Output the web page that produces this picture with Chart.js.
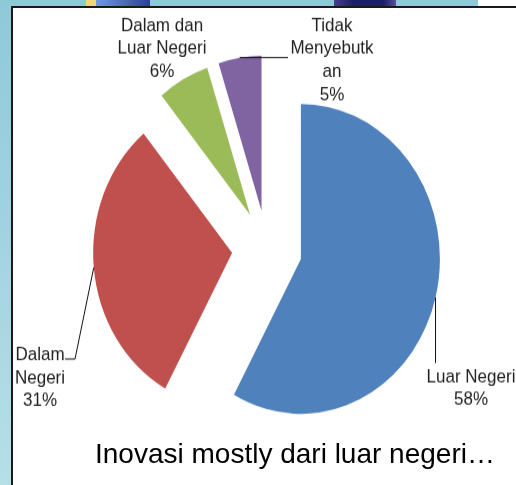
<!DOCTYPE html>
<html>
<head>
<meta charset="utf-8">
<script src="https://cdn.jsdelivr.net/npm/chart.js@4"></script>
<style>
  html, body { margin: 0; padding: 0; background: #fff; }
  body { width: 516px; height: 485px; position: relative; overflow: hidden; font-family: "Liberation Sans", Arial, sans-serif; }
  .marco { position: absolute; }
  #franjaIzq { left: 0; top: 0; width: 11px; height: 485px; background: linear-gradient(#8ec9d8, #b6dfe8); }
  #franjaSup { left: 0; top: 0; width: 478px; height: 6px; background: #8ec9d8; }
  #bitA { left: 86px; top: 0; width: 10px; height: 6px; background: #f0d870; }
  #bitB { left: 96px; top: 0; width: 54px; height: 6px; background: linear-gradient(90deg, #6f9be0, #2c3f94); }
  #bitC { left: 334px; top: 0; width: 62px; height: 6px; background: linear-gradient(90deg, #4a3f8e, #1b2160 30%, #1b2160 80%, #5a4f9a); }
  #lineaIzq { left: 11px; top: 6px; width: 2px; height: 479px; background: #1a1a1a; }
  #lineaSup { left: 11px; top: 6px; width: 505px; height: 2px; background: #1a1a1a; }
  #contenedor { position: absolute; left: 0; top: 0; width: 516px; height: 435px; transform: scaleY(1.115); transform-origin: 0 0; }
  #titulo { position: absolute; left: 95px; top: 440px; font-size: 28px; line-height: 28px; color: #000; white-space: nowrap; }
</style>
</head>
<body>
<div class="marco" id="franjaIzq"></div>
<div class="marco" id="franjaSup"></div>
<div class="marco" id="bitA"></div>
<div class="marco" id="bitB"></div>
<div class="marco" id="bitC"></div>
<div class="marco" id="lineaIzq"></div>
<div class="marco" id="lineaSup"></div>
<div id="contenedor"><canvas id="pieChart"></canvas></div>
<div id="titulo">Inovasi mostly dari luar negeri…</div>
<script>
// Datos
const categorias = ['Luar Negeri', 'Dalam Negeri', 'Dalam dan Luar Negeri', 'Tidak Menyebutkan'];
const valores = [58, 31, 6, 5];
const lineasEtiqueta = [['Luar Negeri'], ['Dalam', 'Negeri'], ['Dalam dan', 'Luar Negeri'], ['Tidak', 'Menyebutk', 'an']];
const colores = ['#4F81BD', '#C0504D', '#9BBB59', '#8064A2'];

// Posicion de las etiquetas (coordenadas del canvas, antes del estiramiento vertical)
const SEPARACION = 35;
const INTERLINEA = 20.6;
const posEtiquetas = [
  { x: 471, y: 342.6, guia: [[null, 325.6]] },
  { x: 40, y: 322.9, guia: [[75, 322], [65, 322]] },
  { x: 162, y: 27.8, guia: null },
  { x: 332, y: 27.8, guia: [[288, null]] }
];

// Separa cada porcion desde el centro (pie explotado)
const explotarPlugin = {
  id: 'explotar',
  afterDatasetUpdate(chart, args) {
    args.meta.data.forEach(arc => {
      const mid = (arc.startAngle + arc.endAngle) / 2;
      arc.x += Math.cos(mid) * SEPARACION;
      arc.y += Math.sin(mid) * SEPARACION;
    });
  }
};

// Etiquetas con lineas guia
const etiquetasPlugin = {
  id: 'etiquetas',
  afterDatasetsDraw(chart) {
    const ctx = chart.ctx;
    const arcs = chart.getDatasetMeta(0).data;
    ctx.save();
    ctx.strokeStyle = '#111';
    ctx.lineWidth = 1;
    ctx.fillStyle = '#222';
    ctx.font = '17px "Liberation Sans", Arial, sans-serif';
    ctx.textAlign = 'center';
    ctx.textBaseline = 'alphabetic';
    arcs.forEach((arc, i) => {
      const pos = posEtiquetas[i];
      const mid = (arc.startAngle + arc.endAngle) / 2;
      const ax = arc.x + Math.cos(mid) * arc.outerRadius;
      const ay = arc.y + Math.sin(mid) * arc.outerRadius;
      if (pos.guia) {
        ctx.beginPath();
        ctx.moveTo(ax, ay);
        pos.guia.forEach(p => ctx.lineTo(p[0] === null ? ax : p[0], p[1] === null ? ay : p[1]));
        ctx.stroke();
      }
      const lineas = [...lineasEtiqueta[i], valores[i] + '%'];
      lineas.forEach((t, j) => ctx.fillText(t, pos.x, pos.y + j * INTERLINEA));
    });
    ctx.restore();
  }
};

function inicializarGrafico() {
  const canvas = document.getElementById('pieChart');
  new Chart(canvas, {
    type: 'pie',
    data: {
      labels: categorias,
      datasets: [{
        data: valores,
        backgroundColor: colores,
        borderWidth: 0,
        hoverOffset: 0
      }]
    },
    options: {
      responsive: true,
      maintainAspectRatio: false,
      animation: false,
      events: [],
      radius: 139,
      layout: { padding: { left: 60, right: 42, top: 40, bottom: 28 } },
      plugins: { legend: { display: false }, tooltip: { enabled: false } }
    },
    plugins: [explotarPlugin, etiquetasPlugin]
  });
}

window.addEventListener('DOMContentLoaded', inicializarGrafico);
</script>
</body>
</html>
